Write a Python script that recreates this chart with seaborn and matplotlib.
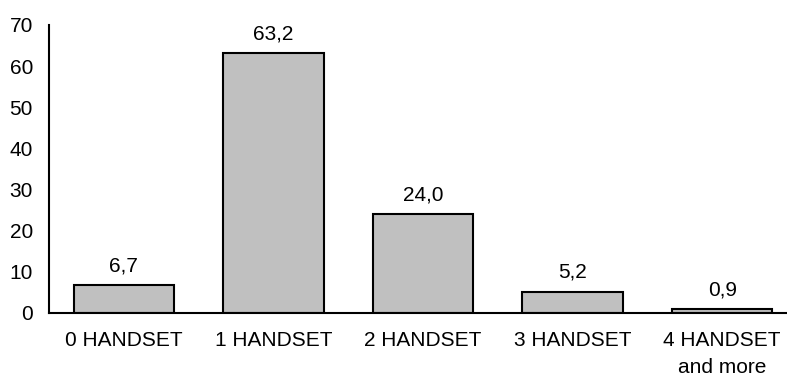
import matplotlib
matplotlib.use("Agg")
import matplotlib.pyplot as plt
from matplotlib.ticker import FixedLocator, MultipleLocator
import seaborn as sns
import pandas as pd

categories = ["0 HANDSET", "1 HANDSET", "2 HANDSET", "3 HANDSET", "4 HANDSET\nand more"]
shares = [6.7, 63.2, 24.0, 5.2, 0.9]

sns.set_style("white")
plt.rcParams["font.family"] = ["Liberation Sans", "DejaVu Sans"]
plt.rcParams["text.color"] = "black"
plt.rcParams["xtick.color"] = "black"
plt.rcParams["ytick.color"] = "black"

FS = 15

df = pd.DataFrame({"category": categories, "share": shares})

fig = plt.figure(figsize=(7.87, 3.79), dpi=100)
# the category axis runs slightly past the right edge of the canvas
ax = fig.add_axes([49 / 787, 66 / 379, 748 / 787, 288 / 379])

sns.barplot(data=df, x="category", y="share", color="#C0C0C0", saturation=1,
            edgecolor="black", linewidth=1.5, width=0.67, ax=ax)

ax.bar_label(ax.containers[0], labels=[f"{v:.1f}".replace(".", ",") for v in shares],
             padding=7, fontsize=FS, color="black")

ax.set_xlim(-0.5, 4.5)
ax.set_ylim(0, 70)
ax.yaxis.set_major_locator(MultipleLocator(10))
ax.xaxis.set_minor_locator(FixedLocator([-0.5, 0.5, 1.5, 2.5, 3.5]))
ax.tick_params(axis="x", which="major", length=0, pad=13, labelsize=FS, labelcolor="black")
ax.tick_params(axis="x", which="minor", length=5, width=1.5, color="black", direction="out")
ax.tick_params(axis="y", length=5, width=1.5, color="black", direction="out",
               labelsize=FS, labelcolor="black", pad=6.5)
for lbl in ax.get_xticklabels():
    lbl.set_linespacing(1.5)
ax.set_xlabel("")
ax.set_ylabel("")

for side in ["top", "right"]:
    ax.spines[side].set_visible(False)
for side in ["left", "bottom"]:
    ax.spines[side].set_color("black")
    ax.spines[side].set_linewidth(1.5)

fig.savefig("out.png", dpi=100)
